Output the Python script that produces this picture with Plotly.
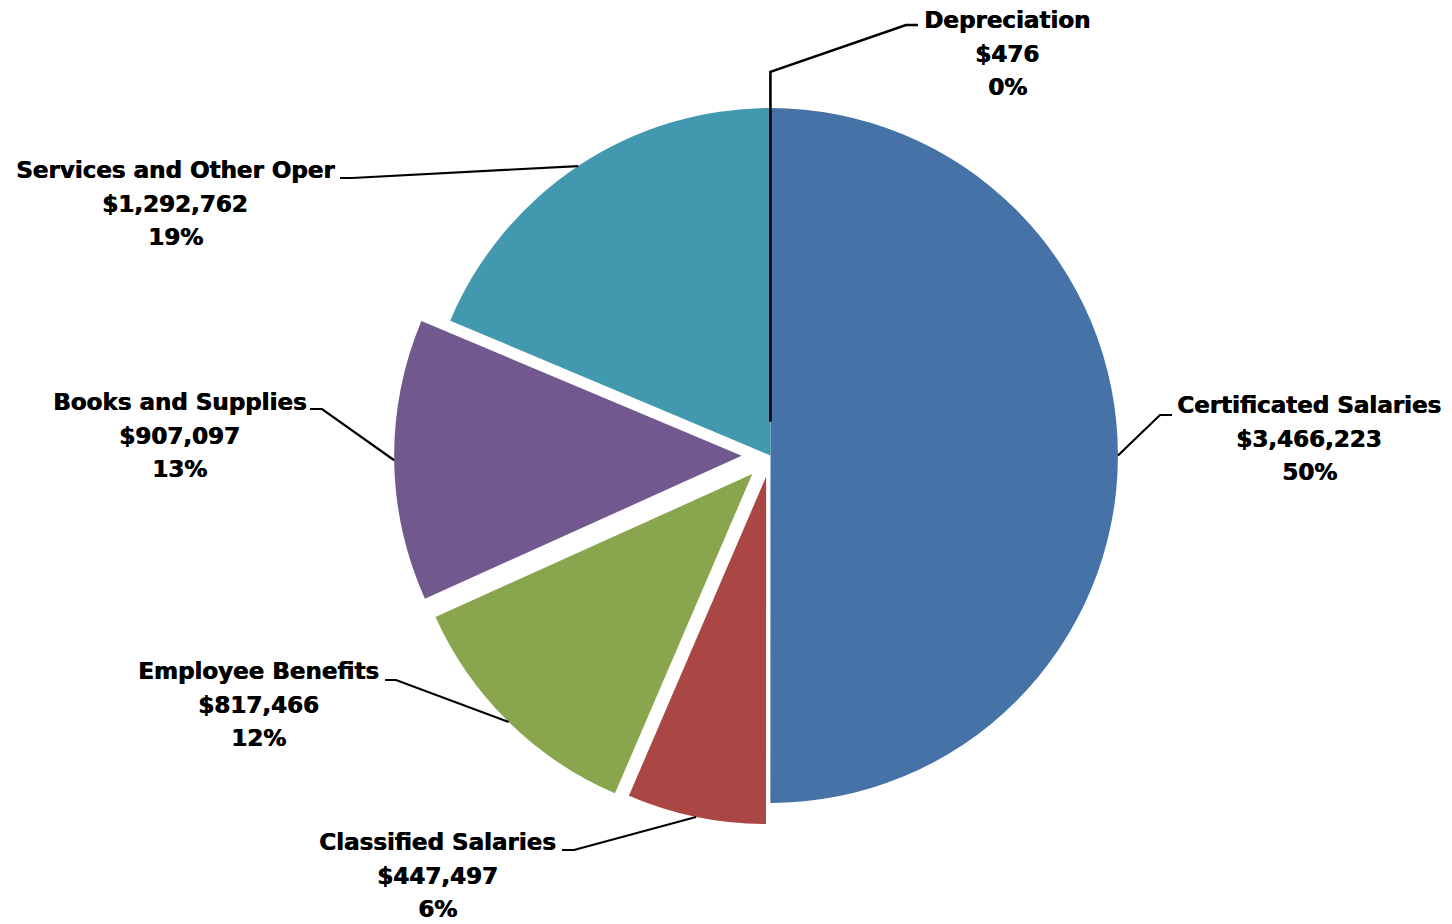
import math
import plotly.graph_objects as go

# ---- data ----
categories = ["Certificated Salaries", "Classified Salaries", "Employee Benefits",
              "Books and Supplies", "Services and Other Oper", "Depreciation"]
amounts = [3466223, 447497, 817466, 907097, 1292762, 476]
pull_out = [0, 0.062, 0.075, 0.083, 0, 0]
colors = ["#4572A7", "#AA4643", "#89A54E", "#71588F", "#4198AF", "#DB843D"]

# ---- layout constants (reference pixels) ----
OFF = 8                      # page body margin
W, H = 1452 - OFF, 924 - OFF  # figure size
CX, CY, R = 770.5, 455.5, 347.5
FONT = dict(family="DejaVu Sans", size=23, color="black",
            shadow="0.7px 0px 0px black")
LINE_GAP = 33.7

# label block: (centre x, first-line y, leader end x, leader y, elbow x)
label_pos = {
    "Certificated Salaries": (1309, 405, 1172, 415, 1160),
    "Classified Salaries": (437, 842, 562, 850, 574),
    "Employee Benefits": (258, 671, 385, 680, 396),
    "Books and Supplies": (179, 402, 310, 409, 322),
    "Services and Other Oper": (175, 170, 340, 178, 352),
    "Depreciation": (1007, 20, 918, 25, 906),
}


def px(x):
    return (x - OFF) / W


def py(y):
    return 1 - (y - OFF) / H


maxpull = max(pull_out)
half = R * (1 + maxpull)
dom_x = [px(CX - half), px(CX + half)]
dom_y = [py(CY + half), py(CY - half)]

fig = go.Figure(go.Pie(
    labels=categories, values=amounts, pull=pull_out,
    marker=dict(colors=colors, line=dict(width=0)),
    sort=False, direction="clockwise", rotation=0,
    textinfo="none", hoverinfo="label+value+percent",
    domain=dict(x=dom_x, y=dom_y), showlegend=False,
))

total = sum(amounts)
annotations = []
shapes = []
cum = 0.0
for name, val, pl in zip(categories, amounts, pull_out):
    frac = val / total
    mid = (cum + frac / 2) * 2 * math.pi
    cum += frac
    dx, dy = math.sin(mid), -math.cos(mid)
    ox, oy = CX + pl * R * dx, CY + pl * R * dy
    ex, ey = ox + R * dx, oy + R * dy
    lcx, ly0, endx, leady, elbx = label_pos[name]
    lines = [name, "${:,}".format(val), "{:d}%".format(round(frac * 100))]
    for i, t in enumerate(lines):
        annotations.append(dict(
            text="<b>%s</b>" % t, x=px(lcx), y=py(ly0 + i * LINE_GAP),
            xref="paper", yref="paper", showarrow=False,
            xanchor="center", yanchor="middle", font=FONT))
    if name == "Depreciation":
        sx, sy = ex, CY - 0.097 * R
        path = "M %f %f L %f %f L %f %f L %f %f" % (
            px(sx), py(sy), px(ex), py(ey - 0.104 * R),
            px(elbx), py(leady), px(endx), py(leady))
    else:
        path = "M %f %f L %f %f L %f %f" % (
            px(ex), py(ey), px(elbx), py(leady), px(endx), py(leady))
    shapes.append(dict(type="path", path=path, xref="paper", yref="paper",
                       line=dict(color="black",
                                 width=2.2 if name != "Depreciation" else 2.6)))

fig.update_layout(
    width=W, height=H, margin=dict(l=0, r=0, t=0, b=0),
    paper_bgcolor="white", plot_bgcolor="white",
    annotations=annotations, shapes=shapes,
)

fig.write_html("out.html")
